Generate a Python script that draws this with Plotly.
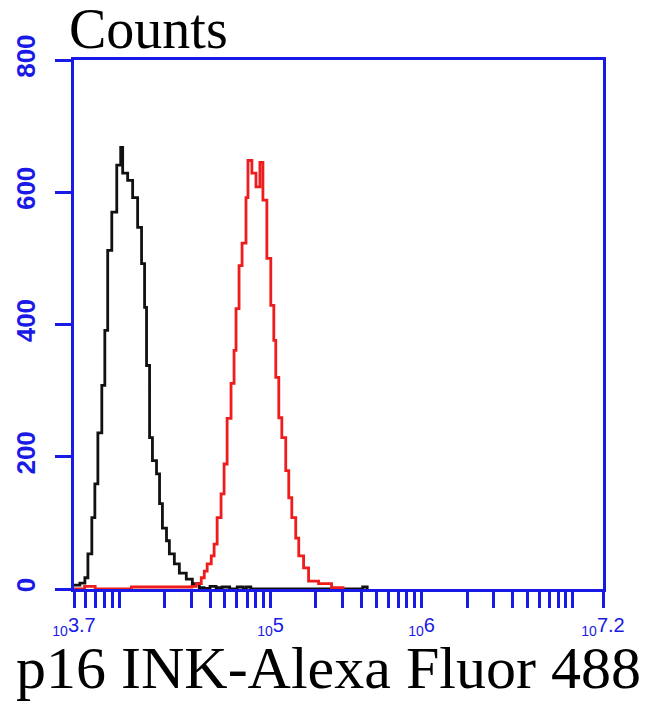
import plotly.graph_objects as go

# log10 fluorescence intensity (bin positions) and counts
black_log = [3.70, 3.739, 3.772, 3.792, 3.818, 3.838, 3.858, 3.884, 3.904, 3.923, 3.950,
             3.983, 4.009, 4.022, 4.055, 4.088, 4.121, 4.147, 4.167, 4.180, 4.200, 4.219, 4.246,
             4.266, 4.285, 4.312, 4.331, 4.364, 4.397, 4.443, 4.483, 4.529, 4.56, 4.60, 4.64,
             4.68, 4.73, 4.78, 4.82, 4.84, 4.87, 4.93, 5.58, 5.61, 5.64]
black_cnt = [6, 9, 17, 53, 108, 159, 236, 308, 391, 512, 570,
             641, 668, 629, 618, 592, 547, 492, 426, 338, 229, 194, 174,
             129, 92, 73, 53, 38, 24, 15, 8, 2, 1, 4, 2,
             3, 0, 3, 0, 3, 0, 0, 0, 3, 0]

red_log = [3.70, 3.77, 3.84, 4.08, 4.38, 4.48, 4.509, 4.542, 4.562, 4.581, 4.608, 4.627, 4.647,
           4.673, 4.693, 4.713, 4.739, 4.759, 4.772, 4.792, 4.812, 4.838, 4.851, 4.877,
           4.904, 4.930, 4.950, 4.976, 5.002, 5.022, 5.035, 5.055, 5.075, 5.101, 5.121,
           5.141, 5.167, 5.187, 5.219, 5.252, 5.318, 5.404, 5.48]
red_cnt = [0, 4, 0, 3, 3, 4, 8, 17, 27, 38, 50, 68, 108,
           144, 189, 258, 311, 361, 424, 489, 523, 592, 648, 629,
           608, 645, 588, 500, 429, 376, 320, 259, 229, 179, 138,
           108, 77, 50, 32, 12, 8, 2, 0]

x_major = [3.7, 5, 6, 7.2]
x_major_exp = ["3.7", "5", "6", "7.2"]
y_ticks = [0, 200, 400, 600, 800]

blue = "#1a1ae6"

minor_vals = []
for dec in [3, 4, 5, 6, 7]:
    for m in range(1, 10):
        v = m * 10 ** dec
        if 10 ** 3.7 <= v <= 10 ** 7.2:
            minor_vals.append(v)

x_major_text = ["<sub>10</sub>" + e for e in x_major_exp]

fig = go.Figure()
fig.add_trace(go.Scatter(x=[10 ** v for v in black_log], y=black_cnt, mode="lines",
                         line=dict(color="#111111", width=2.8, shape="hv"), showlegend=False))
fig.add_trace(go.Scatter(x=[10 ** v for v in red_log], y=red_cnt, mode="lines",
                         line=dict(color="#ee1c1c", width=2.8, shape="hv"), showlegend=False))

fig.update_layout(
    width=650, height=701,
    margin=dict(l=66, r=55, t=52, b=120),
    plot_bgcolor="white", paper_bgcolor="white",
    xaxis=dict(type="log", range=[3.7, 7.2], showgrid=False, zeroline=False, automargin=False,
               showline=True, linecolor=blue, linewidth=2.5, mirror=True,
               tickmode="array", tickvals=[10 ** v for v in x_major], ticktext=x_major_text,
               ticks="outside", ticklen=16, tickwidth=2.5, tickcolor=blue,
               tickfont=dict(family="Liberation Sans", size=20, color=blue),
               minor=dict(tickmode="array", tickvals=minor_vals, ticks="outside",
                          ticklen=16, tickwidth=2.5, tickcolor=blue, showgrid=False)),
    yaxis=dict(range=[0, 800], showgrid=False, zeroline=False, automargin=False,
               showline=True, linecolor=blue, linewidth=2.5, mirror=True,
               tickmode="array", tickvals=y_ticks,
               ticks="outside", ticklen=16, tickwidth=2.5, tickcolor=blue,
               tickangle=-90, ticklabelstandoff=10,
               tickfont=dict(family="Liberation Sans", size=26, color=blue, weight="bold")),
    annotations=[
        dict(text="Counts", xref="paper", yref="paper", x=-0.013, y=1.058,
             xanchor="left", yanchor="middle", showarrow=False,
             font=dict(family="Liberation Serif", size=56, color="black")),
        dict(text="p16 INK-Alexa Fluor 488", xref="paper", yref="paper", x=-0.1134, y=-0.149,
             xanchor="left", yanchor="middle", showarrow=False,
             font=dict(family="Liberation Serif", size=60, color="black")),
    ],
)

fig.write_html("out.html")
